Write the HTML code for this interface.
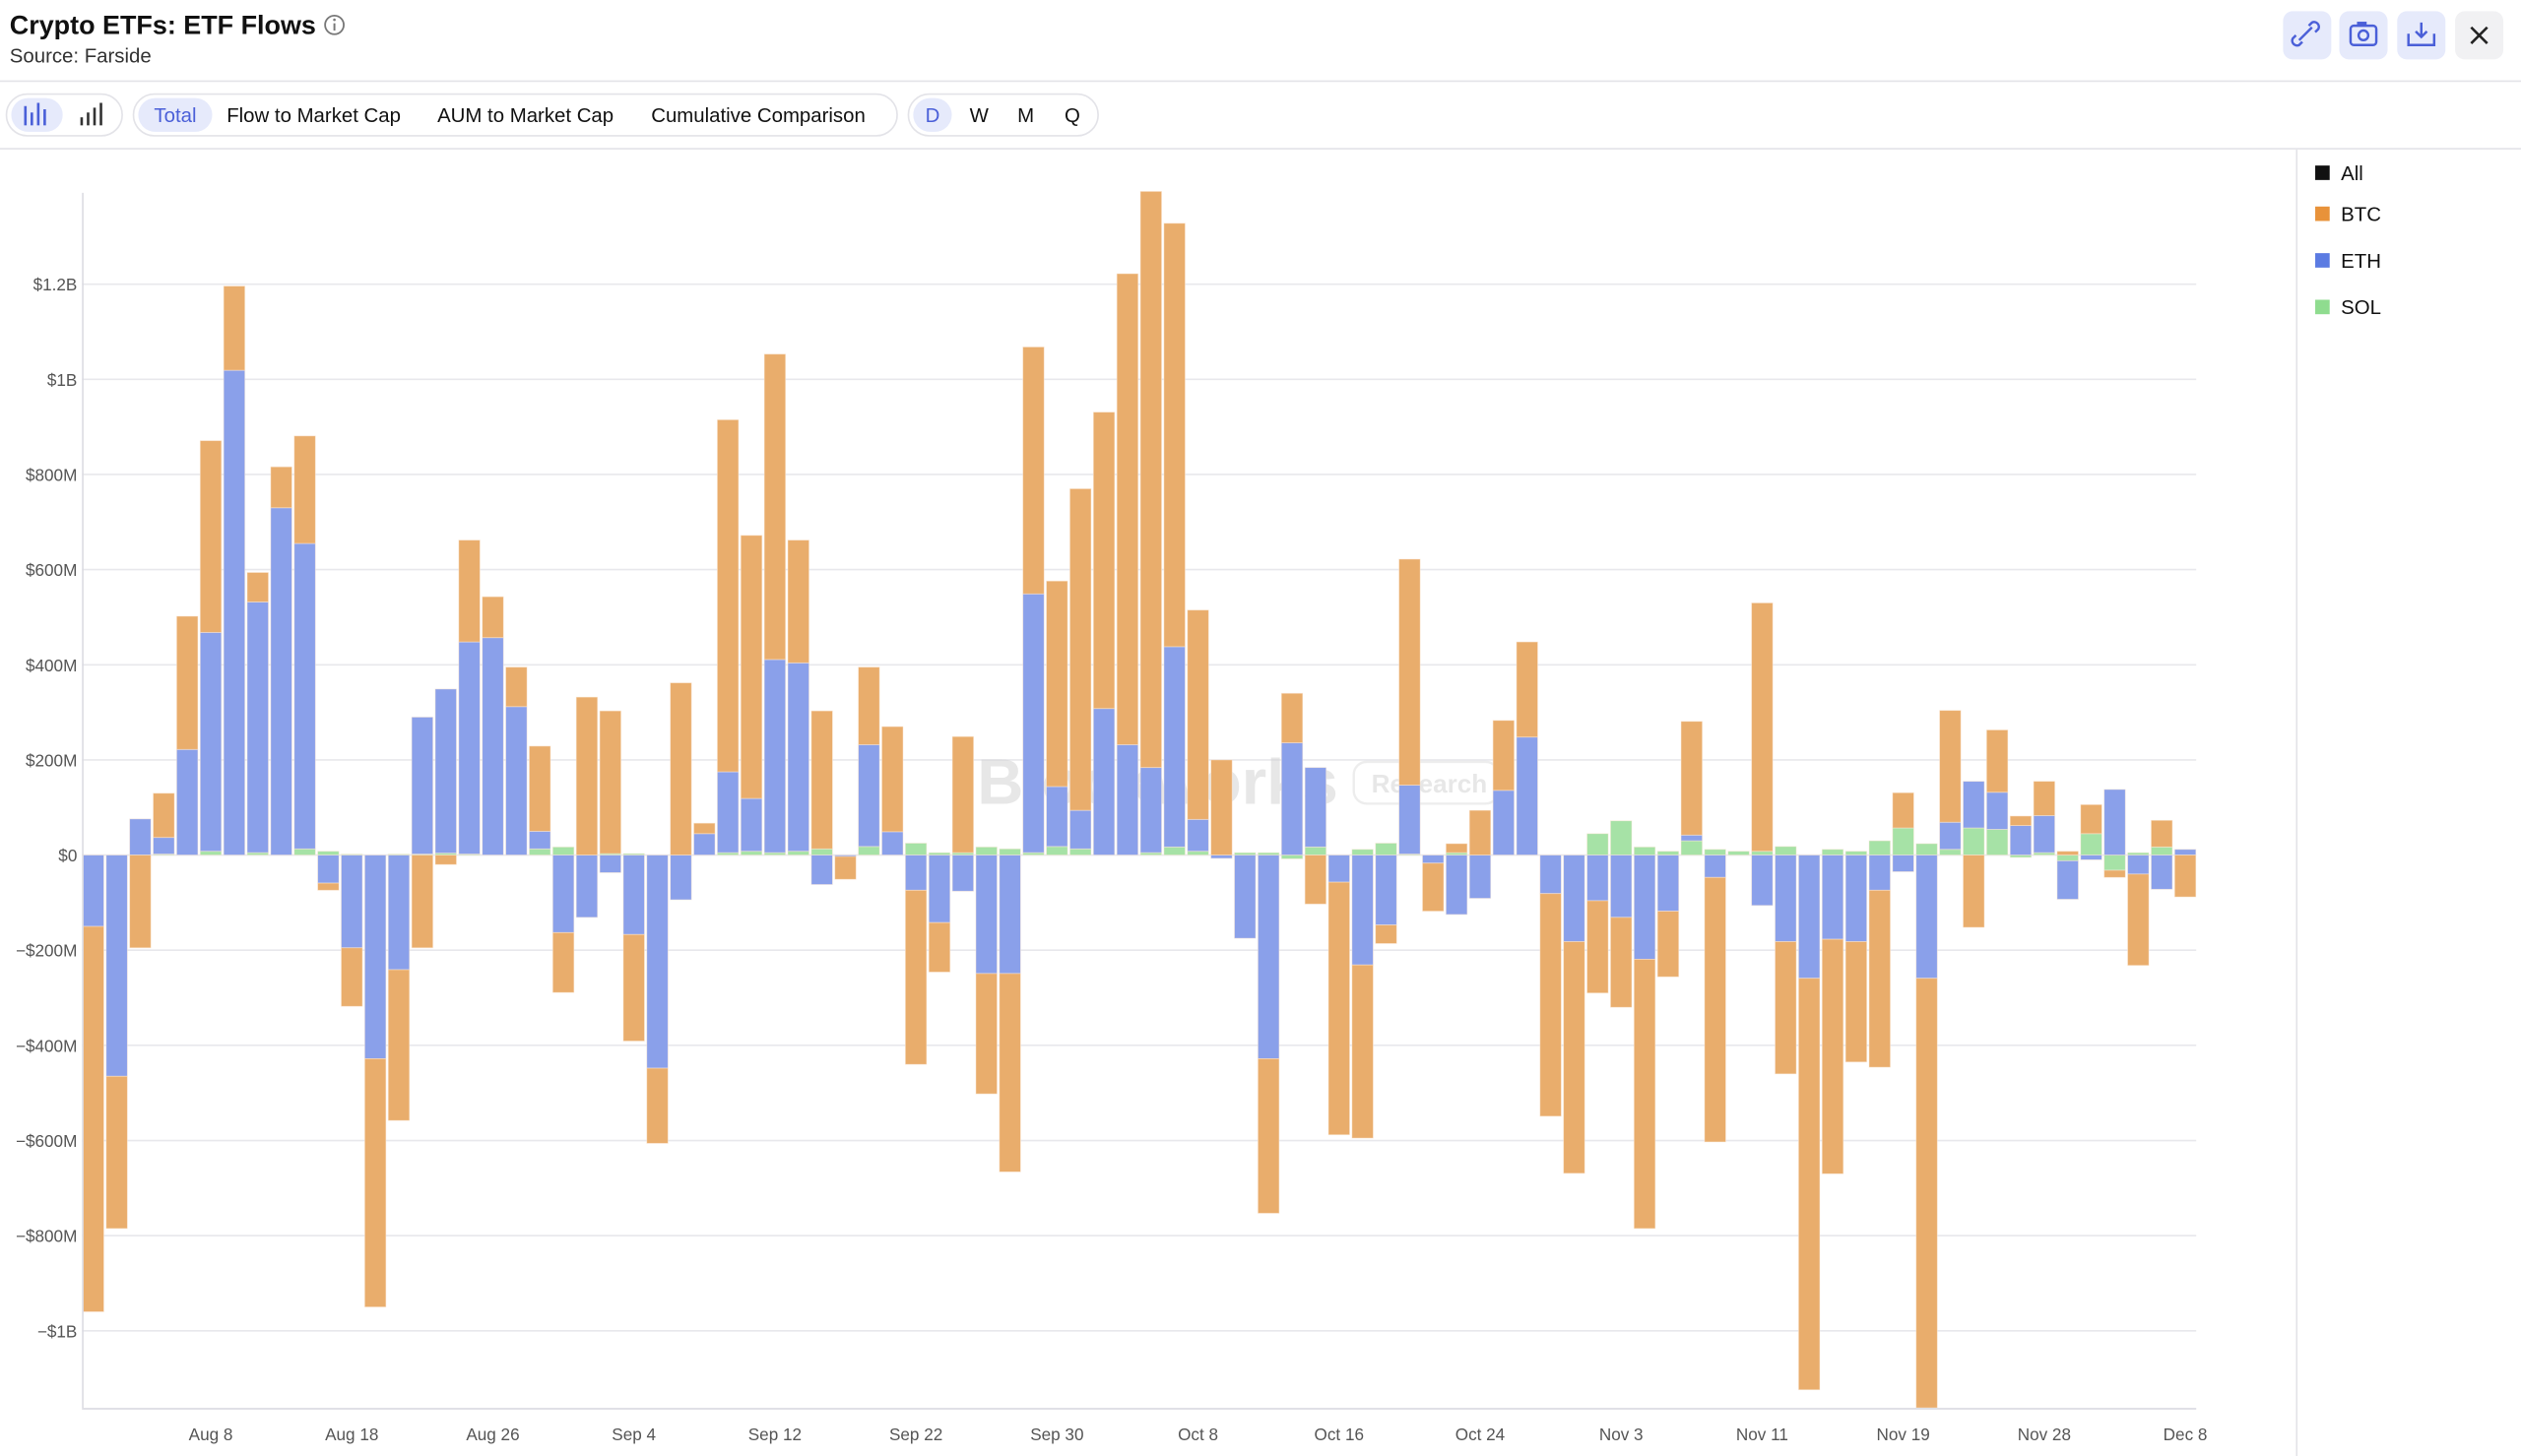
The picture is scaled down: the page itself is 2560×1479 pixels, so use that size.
<!DOCTYPE html>
<html><head><meta charset="utf-8"><title>Crypto ETFs: ETF Flows</title>
<style>
html,body{margin:0;padding:0;background:#fff;}
svg{display:block;font-family:"Liberation Sans",sans-serif;}
</style></head>
<body>
<svg id="root" width="2560" height="1479" viewBox="0 0 1568 905.9" preserveAspectRatio="none" xmlns="http://www.w3.org/2000/svg">
  <rect x="0" y="0" width="1568" height="906" fill="#fff"/>
  <!-- header -->
  <text x="6" y="21" font-size="16.5" font-weight="bold" fill="#111">Crypto ETFs: ETF Flows</text>
  <g>
    <circle cx="208" cy="15.5" r="5.8" fill="none" stroke="#777" stroke-width="1.1"/>
    <line x1="208" y1="14.5" x2="208" y2="19" stroke="#777" stroke-width="1.2"/>
    <circle cx="208" cy="12.3" r="0.8" fill="#777"/>
  </g>
  <text x="6" y="39" font-size="12.5" fill="#333">Source: Farside</text>

  <g>
    <rect x="1420" y="7" width="30" height="30" rx="6" fill="#e6eafb"/>
    <path d="M1430 25 l8 -8 M1428 22 l-2 2 a3 3 0 0 0 4 4 l2 -2 M1440 20 l2 -2 a3 3 0 0 0 -4 -4 l-2 2" stroke="#4a5fd8" stroke-width="1.5" fill="none"/>
  </g>
  <g>
    <rect x="1455" y="7" width="30" height="30" rx="6" fill="#e6eafb"/>
    <rect x="1462" y="16" width="16" height="12" rx="2" fill="none" stroke="#4a5fd8" stroke-width="1.5"/>
    <circle cx="1470" cy="22" r="3" fill="none" stroke="#4a5fd8" stroke-width="1.5"/>
    <rect x="1466" y="13.5" width="6" height="3" fill="#4a5fd8"/>
  </g>
  <g>
    <rect x="1491" y="7" width="30" height="30" rx="6" fill="#e6eafb"/>
    <path d="M1498 21 v7 h16 v-7" stroke="#4a5fd8" stroke-width="1.5" fill="none"/>
    <path d="M1506 14 v9 M1502.5 19.5 l3.5 3.5 l3.5 -3.5" stroke="#4a5fd8" stroke-width="1.5" fill="none"/>
  </g>
  <g>
    <rect x="1527" y="7" width="30" height="30" rx="6" fill="#f1f1f3"/>
    <path d="M1537 17 l10 10 M1547 17 l-10 10" stroke="#222" stroke-width="1.6"/>
  </g>
  <line x1="0" y1="50.5" x2="1568" y2="50.5" stroke="#e3e3e8"/>

  <!-- toolbar -->
  <g>
    <rect x="4" y="58.5" width="72" height="26" rx="13" fill="#fff" stroke="#e3e3e8"/>
    <rect x="7" y="61" width="32" height="21" rx="10.5" fill="#e6eafb"/>
    <g fill="#4a5fd8">
      <rect x="15" y="66" width="1.6" height="12"/><rect x="19" y="70" width="1.6" height="8"/><rect x="23" y="64" width="1.6" height="14"/><rect x="27" y="68" width="1.6" height="10"/>
    </g>
    <g fill="#333">
      <rect x="50" y="73" width="1.6" height="5"/><rect x="54" y="70" width="1.6" height="8"/><rect x="58" y="67" width="1.6" height="11"/><rect x="62" y="64" width="1.6" height="14"/>
    </g>
  </g>
  <g>
    <rect x="83" y="58.5" width="475" height="26" rx="13" fill="#fff" stroke="#e3e3e8"/>
    <rect x="86" y="61" width="46" height="21" rx="10.5" fill="#e6eafb"/>
    <text x="109" y="76" font-size="12.5" fill="#4a5fd8" text-anchor="middle">Total</text>
    <text x="141" y="76" font-size="12.5" fill="#111">Flow to Market Cap</text>
    <text x="272" y="76" font-size="12.5" fill="#111">AUM to Market Cap</text>
    <text x="405" y="76" font-size="12.5" fill="#111">Cumulative Comparison</text>
  </g>
  <g>
    <rect x="565" y="58.5" width="118" height="26" rx="13" fill="#fff" stroke="#e3e3e8"/>
    <rect x="568" y="61" width="24" height="21" rx="10.5" fill="#e6eafb"/>
    <text x="580" y="76" font-size="12.5" fill="#4a5fd8" text-anchor="middle">D</text>
    <text x="609" y="76" font-size="12.5" fill="#111" text-anchor="middle">W</text>
    <text x="638" y="76" font-size="12.5" fill="#111" text-anchor="middle">M</text>
    <text x="667" y="76" font-size="12.5" fill="#111" text-anchor="middle">Q</text>
  </g>
  <line x1="0" y1="92.5" x2="1568" y2="92.5" stroke="#e3e3e8"/>
  <line x1="1428.5" y1="93" x2="1428.5" y2="906" stroke="#e3e3e8"/>

  <!-- legend -->
  <g>
    <g><rect x="1440" y="103" width="9" height="9" fill="#111"/><text x="1456" y="112" font-size="12.5" fill="#111">All</text></g>
    <g><rect x="1440" y="128.5" width="9" height="9" fill="#e8923a"/><text x="1456" y="137.5" font-size="12.5" fill="#111">BTC</text></g>
    <g><rect x="1440" y="157.5" width="9" height="9" fill="#5b7be2"/><text x="1456" y="166.5" font-size="12.5" fill="#111">ETH</text></g>
    <g><rect x="1440" y="186.5" width="9" height="9" fill="#8fdc8f"/><text x="1456" y="195.5" font-size="12.5" fill="#111">SOL</text></g>
  </g>

  <g id="grid"></g>
  <g id="ylabels"></g>
  <g id="xlabels"></g>
  <g opacity="0.5">
    <text x="720" y="500" font-size="40" font-weight="bold" fill="#d0d0d0" text-anchor="middle">Blockworks</text>
    <rect x="842" y="474" width="90" height="26" rx="8" fill="none" stroke="#ddd" stroke-width="1.5"/>
    <text x="853" y="493" font-size="16" font-weight="bold" fill="#d0d0d0">Research</text>
  </g>
  <defs><clipPath id="plotclip"><rect x="51" y="115" width="1320" height="761"/></clipPath></defs>
  <g id="bars" clip-path="url(#plotclip)"></g>
  <line x1="51.5" y1="120" x2="51.5" y2="876" stroke="#dcdce2"/>
  <line x1="51" y1="876.5" x2="1366" y2="876.5" stroke="#dcdce2"/>
</svg>
<script>
const categories = ["Aug 1","Aug 4","Aug 5","Aug 6","Aug 7","Aug 8","Aug 11","Aug 12","Aug 13","Aug 14","Aug 15","Aug 18","Aug 19","Aug 20","Aug 21","Aug 22","Aug 25","Aug 26","Aug 27","Aug 28","Aug 29",
"Sep 2","Sep 3","Sep 4","Sep 5","Sep 8","Sep 9","Sep 10","Sep 11","Sep 12","Sep 15","Sep 16","Sep 17","Sep 18","Sep 19","Sep 22","Sep 23","Sep 24","Sep 25","Sep 26","Sep 29","Sep 30",
"Oct 1","Oct 2","Oct 3","Oct 6","Oct 7","Oct 8","Oct 9","Oct 10","Oct 13","Oct 14","Oct 15","Oct 16","Oct 17","Oct 20","Oct 21","Oct 22","Oct 23","Oct 24","Oct 27","Oct 28","Oct 29","Oct 30","Oct 31",
"Nov 3","Nov 4","Nov 5","Nov 6","Nov 7","Nov 10","Nov 11","Nov 12","Nov 13","Nov 14","Nov 17","Nov 18","Nov 19","Nov 20","Nov 21","Nov 24","Nov 25","Nov 26","Nov 28",
"Dec 1","Dec 2","Dec 3","Dec 4","Dec 5","Dec 8"];
const tickDates = ["Aug 8","Aug 18","Aug 26","Sep 4","Sep 12","Sep 22","Sep 30","Oct 8","Oct 16","Oct 24","Nov 3","Nov 11","Nov 19","Nov 28","Dec 8"];
const yTicks = [-1000,-800,-600,-400,-200,0,200,400,600,800,1000,1200];
const yTickLabels = ["\u2212$1B","\u2212$800M","\u2212$600M","\u2212$400M","\u2212$200M","$0","$200M","$400M","$600M","$800M","$1B","$1.2B"];
// values in $M
const ethFlows = [-150,-465,76,35,222,460,1019,527,730,642,-59,-195,-428,-241,288,345,446,457,312,37,-163,-131,-37,-167,-448,-94,45,170,111,406,396,-62,-3,214,49,-74,-142,-76,-249,-249,544,126,81,308,232,179,421,67,-7,-175,-428,236,167,-57,-231,-147,145,-17,-125,-91,136,248,-81,-182,-96,-131,-219,-118,12,-47,0,-106,-182,-259,-177,-182,-74,-35,-259,57,98,78,62,78,-81,-10,138,-40,-72,12];
const btcFlows = [-810,-320,-195,93,280,403,177,62,86,226,-15,-123,-522,-317,-195,-20,214,86,83,179,-126,332,300,-224,-158,362,22,740,553,642,258,290,-48,163,221,-366,-104,244,-253,-417,519,432,676,623,990,1211,890,440,200,0,-325,104,-103,-531,-364,-39,475,-101,19,94,147,200,-468,-487,-194,-189,-566,-138,239,-556,0,522,-278,-865,-493,-253,-372,74,-903,235,-152,131,20,72,8,61,-15,-192,56,-88];
const solFlows = [0,0,0,2,0,8,0,5,0,13,8,2,0,2,2,4,2,0,0,13,17,0,3,3,0,0,0,5,8,5,8,13,0,18,0,25,5,5,17,13,5,18,13,0,0,5,17,8,0,5,5,-8,17,0,12,25,2,0,5,0,0,0,0,0,45,72,17,8,30,12,8,8,18,0,12,8,30,57,24,12,57,54,-5,5,-12,45,-32,5,17,0];

const NS = "http://www.w3.org/2000/svg";
const X0 = 58, STEP = 14.62, BARW = 13.2;
function xPos(i){ return X0 + STEP * i; }
function yPos(v){ return 532 - v * 0.296; }
function mk(tag, attrs, parent){ const e = document.createElementNS(NS, tag); for (const k in attrs) e.setAttribute(k, attrs[k]); parent.appendChild(e); return e; }

const grid = document.getElementById('grid');
const yl = document.getElementById('ylabels');
yTicks.forEach((t, k) => {
  const y = yPos(t);
  const ln = mk('line', {x1: 51, x2: 1366, y1: y, y2: y, stroke: '#e8e8ec', 'stroke-width': 1}, grid);
  
  
  const tx = mk('text', {x: 48, y: y + 4, 'font-size': 10.5, fill: '#555', 'text-anchor': 'end'}, yl);
  tx.textContent = yTickLabels[k];
  
  
});
const xl = document.getElementById('xlabels');
categories.forEach((c, i) => {
  if (tickDates.indexOf(c) >= 0) {
    const tx = mk('text', {x: xPos(i), y: 896, 'font-size': 10.5, fill: '#555', 'text-anchor': 'middle'}, xl);
    tx.textContent = c;
    
    
  }
});
const bars = document.getElementById('bars');
const series = [
  {vals: solFlows, color: '#a6e2a6', name: 'bar-sol'},
  {vals: ethFlows, color: '#8aa0ea', name: 'bar-eth'},
  {vals: btcFlows, color: '#e9ad6c', name: 'bar-btc'}
];
categories.forEach((c, i) => {
  let pos = 0, neg = 0;
  series.forEach(s => {
    const v = s.vals[i];
    if (!v) return;
    let a, b;
    if (v > 0) { a = pos; b = pos + v; pos = b; } else { a = neg; b = neg + v; neg = b; }
    const y1 = yPos(Math.max(a, b)), y2 = yPos(Math.min(a, b));
    const r = mk('rect', {x: xPos(i) - BARW / 2, y: y1, width: BARW, height: Math.max(0.5, y2 - y1), fill: s.color, stroke: '#fbe9d8', 'stroke-width': 0.5, 'stroke-opacity': 0.6}, bars);
    
    
  });
});
</script>
</body></html>
